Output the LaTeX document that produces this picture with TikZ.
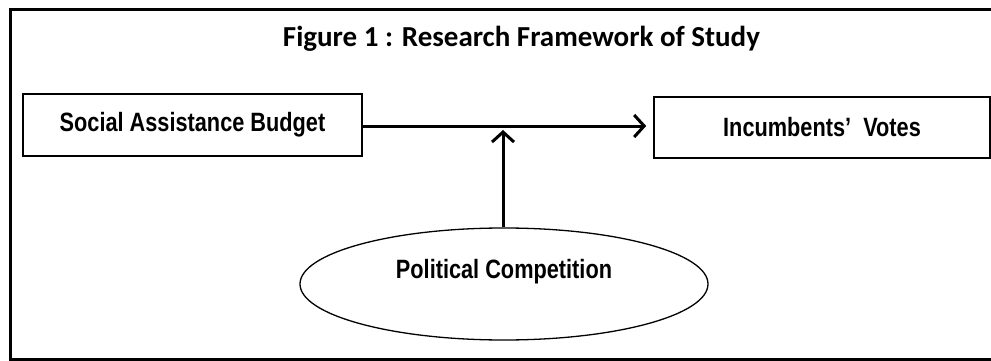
\documentclass[tikz,border=0pt]{standalone}
\usepackage{fontspec}
\newfontfamily\titlefont{Carlito}
\newfontfamily\narrowfont[FakeStretch=0.82]{Liberation Sans}
\usetikzlibrary{arrows.meta, positioning, shapes.geometric}

\begin{document}
\begin{tikzpicture}[
    x=1pt, y=-1pt,
    frame/.style={
        line width=3pt,
    },
    varbox/.style={
        rectangle,
        draw,
        line width=1.6pt,
        inner sep=0pt,
        font=\narrowfont\bfseries\fontsize{26.5}{30}\selectfont,
    },
    moderator/.style={
        ellipse,
        draw,
        line width=1.3pt,
        inner sep=0pt,
        minimum width=408pt,
        minimum height=112pt,
        text height=19pt,
        text depth=31pt,
        font=\narrowfont\bfseries\fontsize{26.5}{30}\selectfont,
    },
    effect/.style={
        line width=3pt,
        -{Straight Barb[length=10pt, width=22pt, line width=3pt]},
    },
    heading/.style={
        font=\titlefont\bfseries\fontsize{29}{33}\selectfont,
    }
]
    \useasboundingbox (0,0) rectangle (991,361);
    \clip (0,0) rectangle (991,361);

    % Frame
    \draw[frame] (10,10) rectangle (1000,359);

    % Title
    \node[heading] (title) at (521.5,38.5) {Figure 1 : Research Framework of Study};

    % Variables
    \node[varbox, minimum width=339pt, minimum height=62pt] (budget) at (192.5,125) {Social Assistance Budget};
    \node[varbox, minimum width=336pt, minimum height=61pt] (votes) at (822,127.5) {Incumbents’\ \ Votes};
    \node[moderator] (competition) at (504,284) {Political Competition};

    % Links
    \coordinate (mid) at (503,130);
    \draw[effect, shorten >=7pt] (budget.east |- 0,126) -- (votes.west |- 0,126);
    \draw[effect] (competition.north -| mid) -- (mid);
\end{tikzpicture}
\end{document}
